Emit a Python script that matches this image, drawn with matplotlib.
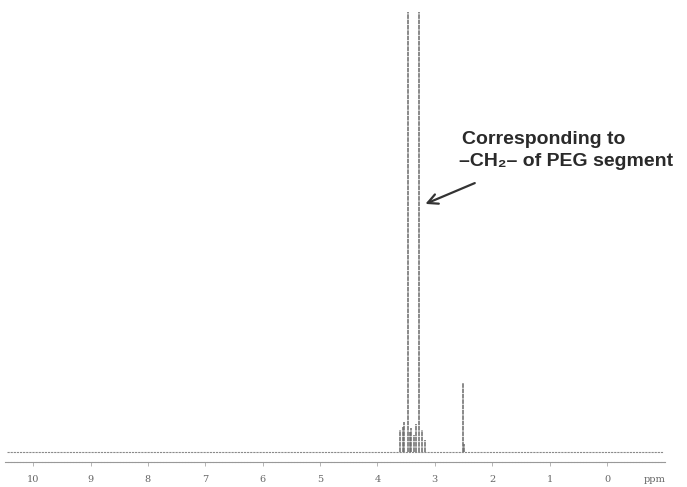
import numpy as np
import matplotlib
matplotlib.use("Agg")
import matplotlib.pyplot as plt
import matplotlib.transforms as mtransforms

# 1H NMR peaks (ppm, intensity in arbitrary units; tall PEG/water lines run off the top)
peak_ppm = [3.60, 3.55, 3.53, 3.475, 3.44, 3.41, 3.37, 3.32, 3.27, 3.22, 3.18, 2.51, 2.49]
peak_int = [22, 25, 30, 900, 20, 24, 17, 28, 900, 22, 12, 69, 8]

tick_ppm = [10, 9, 8, 7, 6, 5, 4, 3, 2, 1, 0]
tick_lbl = ["10", "9", "8", "7", "6", "5", "4", "3", "2", "1", "0"]

line_col = "#6a6a6a"

fig = plt.figure(figsize=(6.87, 4.87), dpi=100)
ax = fig.add_axes([5 / 687, 25 / 487, 660 / 687, 450 / 487])

# baseline + peaks
ax.plot([10.45, -0.98], [0, 0], color="#8a8a8a", lw=0.8, ls=(0, (2, 0.8)))
ax.vlines(peak_ppm, 0, peak_int, color=line_col, lw=1.1, linestyles=(0, (3, 0.5)))

ax.set_xlim(10.49, -1.01)
ax.set_ylim(-10, 440)

for s in ["top", "right", "left"]:
    ax.spines[s].set_visible(False)
ax.spines["bottom"].set_color("#999999")
ax.spines["bottom"].set_linewidth(0.8)
ax.spines["bottom"].set_linestyle((0, (2, 0.8)))
ax.set_yticks([])
ax.set_xticks(tick_ppm)
ax.set_xticklabels(tick_lbl, family="DejaVu Serif", fontsize=7, color="#666666")
ax.tick_params(axis="x", direction="out", length=3, width=0.5, color="#999999", pad=6)

trans = mtransforms.blended_transform_factory(ax.transData, ax.transAxes)
ax.text(-0.83, -0.038, "ppm", transform=trans, ha="center", va="center",
        family="DejaVu Serif", fontsize=7, color="#666666")

# annotation
ax.annotate("", xy=(3.21, 247), xytext=(2.26, 270),
            xycoords="data", textcoords="data",
            arrowprops=dict(arrowstyle="->", color="#333333", lw=1.6,
                            mutation_scale=18))
fig.text(462 / 687, 1 - 139 / 487, "Corresponding to", ha="left", va="center",
         family=["Liberation Sans", "DejaVu Sans"], weight="bold", fontsize=14,
         color="#2a2a2a")
fig.text(459 / 687, 1 - 162 / 487, "–CH₂– of PEG segment", ha="left", va="center",
         family=["Liberation Sans", "DejaVu Sans"], weight="bold", fontsize=14,
         color="#2a2a2a")

fig.savefig("out.png", dpi=100)
